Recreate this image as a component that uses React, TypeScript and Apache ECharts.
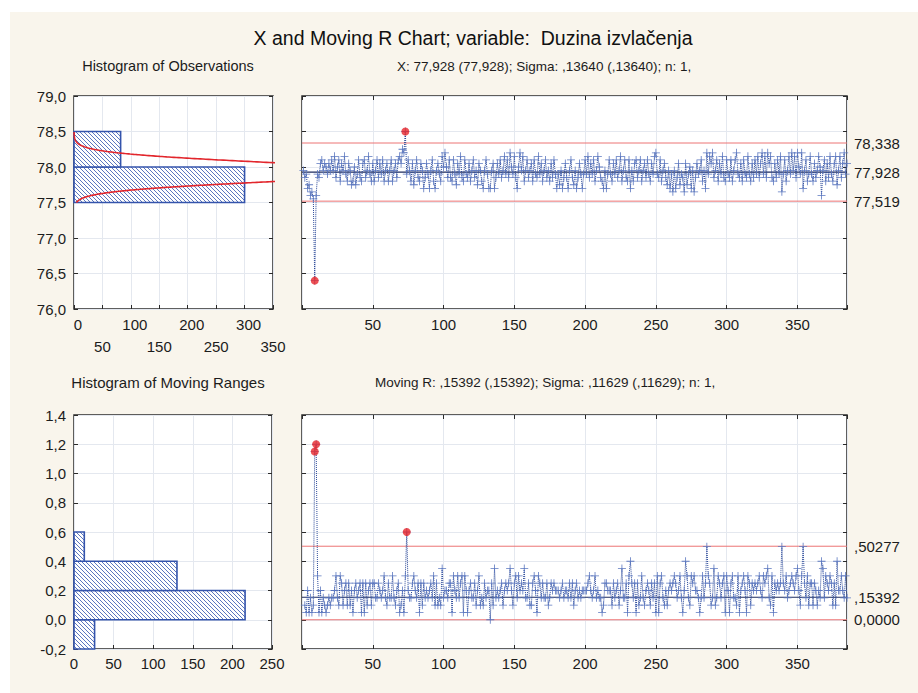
import React, { useEffect, useRef } from 'react';
import * as echarts from 'echarts';

// ---------- texts ----------
const TITLE = 'X and Moving R Chart; variable:  Duzina izvlačenja';
const HIST_X_TITLE = 'Histogram of Observations';
const X_STATS = 'X: 77,928 (77,928); Sigma: ,13640 (,13640); n: 1,';
const HIST_R_TITLE = 'Histogram of Moving Ranges';
const R_STATS = 'Moving R: ,15392 (,15392); Sigma: ,11629 (,11629); n: 1,';

// ---------- control limits ----------
const X_CENTER = 77.928;
const X_UCL = 78.338;
const X_LCL = 77.519;
const X_SIGMA = 0.1364;
const R_CENTER = 0.15392;
const R_UCL = 0.50277;
const R_LCL = 0;

// ---------- histograms (lower bin edges + counts) ----------
const X_HIST_BINS = [77.5, 78.0];
const X_HIST_COUNTS = [300, 82];
const X_BIN_WIDTH = 0.5;
const X_CURVE_RANGE = [77.5, 78.5];
const R_HIST_BINS = [-0.2, 0.0, 0.2, 0.4];
const R_HIST_COUNTS = [26, 216, 130, 13];
const R_BIN_WIDTH = 0.2;

// ---------- individual observations ----------
const X_VALUES = [
  77.95, 77.85, 77.9, 77.7, 77.75, 77.6, 77.65, 77.55, 76.4, 77.6, 77.9, 77.85, 78.05, 78.1, 77.95, 78.05, 78.0, 77.9, 78.05, 77.95,
  78.1, 77.95, 78.15, 77.85, 78.0, 78.1, 77.8, 78.05, 77.95, 78.15, 77.9, 77.8, 78.05, 77.95, 77.75, 77.8, 78.0, 77.75, 77.9, 78.1,
  77.85, 77.8, 78.05, 78.1, 77.85, 77.95, 78.15, 77.9, 77.8, 78.05, 77.8, 77.95, 78.1, 77.85, 78.05, 77.9, 78.1, 77.8, 77.95, 78.05,
  77.8, 77.95, 78.1, 77.8, 77.95, 78.05, 77.85, 78.1, 78.15, 78.05, 78.25, 78.2, 78.5, 77.9, 78.1, 77.95, 77.8, 78.05, 77.75, 77.95,
  78.1, 77.85, 77.8, 78.05, 77.95, 77.7, 77.85, 78.05, 77.9, 77.7, 77.95, 78.1, 77.8, 77.7, 77.95, 78.05, 77.9, 77.8, 78.15, 78.0,
  78.2, 78.0, 77.85, 78.1, 77.85, 77.8, 78.1, 77.9, 77.75, 78.05, 77.9, 78.15, 77.85, 77.8, 78.1, 77.9, 77.85, 78.05, 77.8, 77.95,
  78.1, 77.85, 77.95, 77.75, 78.05, 77.95, 77.8, 77.7, 77.95, 78.1, 77.9, 77.7, 77.7, 77.95, 78.05, 77.7, 77.85, 78.05, 77.9, 78.1,
  77.85, 77.95, 78.15, 77.9, 78.1, 77.85, 78.2, 78.0, 77.9, 78.15, 77.85, 77.7, 78.0, 78.2, 77.95, 78.15, 77.8, 77.95, 78.1, 77.85,
  77.95, 78.05, 77.8, 78.1, 77.9, 77.85, 78.15, 77.9, 78.05, 77.8, 77.95, 78.1, 77.85, 77.95, 77.8, 78.05, 77.85, 78.1, 77.9, 77.7,
  77.9, 77.75, 77.95, 77.7, 77.85, 78.05, 77.85, 77.7, 77.95, 78.1, 77.85, 77.75, 77.95, 77.7, 77.85, 78.05, 77.9, 77.7, 77.9, 78.1,
  77.9, 78.15, 77.85, 78.05, 77.9, 78.1, 77.8, 77.95, 78.15, 78.0, 77.85, 77.8, 77.7, 77.95, 77.7, 77.9, 78.1, 77.9, 77.8, 78.05,
  77.9, 78.1, 77.85, 77.95, 78.15, 77.8, 77.95, 78.1, 77.85, 77.8, 78.1, 77.7, 77.95, 77.8, 78.05, 78.1, 77.85, 77.95, 78.1, 77.8,
  77.95, 78.05, 77.85, 78.1, 77.9, 77.8, 78.05, 77.9, 78.15, 78.2, 77.9, 77.85, 78.1, 77.8, 77.95, 78.05, 77.85, 77.75, 77.95, 77.7,
  77.9, 77.65, 77.95, 77.7, 77.85, 78.05, 77.75, 77.9, 77.85, 77.65, 78.05, 77.75, 77.9, 78.0, 77.7, 77.95, 77.65, 77.85, 78.05, 77.9,
  77.95, 78.1, 77.8, 77.95, 77.7, 78.2, 77.9, 78.15, 78.05, 78.2, 77.85, 77.95, 78.1, 77.8, 78.05, 77.9, 78.15, 77.85, 77.8, 78.1,
  77.9, 77.85, 78.1, 77.8, 77.95, 78.1, 78.2, 77.9, 77.85, 78.05, 77.8, 78.1, 77.9, 77.85, 78.15, 77.9, 77.8, 78.05, 77.85, 78.1,
  77.9, 78.15, 77.85, 78.05, 78.2, 77.9, 78.15, 77.85, 78.2, 78.05, 78.15, 77.85, 77.8, 78.05, 77.85, 78.1, 77.9, 78.15, 77.65, 77.9,
  78.1, 77.8, 77.95, 78.15, 77.9, 78.2, 77.95, 78.15, 77.85, 78.2, 78.0, 77.9, 78.2, 77.7, 77.95, 78.1, 77.8, 77.9, 78.15, 77.9,
  77.8, 78.05, 77.85, 77.95, 78.15, 78.0, 77.6, 77.95, 78.1, 77.8, 78.05, 77.85, 78.15, 77.9, 77.8, 78.05, 78.15, 77.75, 77.95, 78.15,
  77.85, 78.05, 78.2, 77.9, 78.05,
];

// ---------- axes ----------
const X_HIST_MAX = 350;
const X_CURVE_MAX_COUNT = 355; // the fitted curve runs a little past the histogram frame
const R_HIST_MAX = 250;
const SAMPLE_MAX = 385;

const FONT = '"Liberation Sans", Arial, Helvetica, sans-serif';
const TXT = '#1c1c1c';
const BLUE = '#3454ac';
const LIMIT_RED = '#ec7474';
const CENTER_NAVY = '#1d2b5e';
const CROSS = 'path://M0,4.5L10,4.5L10,5.5L0,5.5Z M4.5,0L5.5,0L5.5,10L4.5,10Z';

const comma = (d: number) => (v: number) => v.toFixed(d).replace('.', ',');
const statFmt = (v: number) =>
  v === 0 ? '0,0000' : v.toFixed(5).replace(/^0/, '').replace('.', ',');

function hatchBar(params: any, api: any) {
  const lo = api.value(0);
  const hi = api.value(1);
  const cnt = api.value(2);
  const a = api.coord([0, hi]);
  const b = api.coord([cnt, lo]);
  const x0 = a[0], y0 = a[1], x1 = b[0], y1 = b[1];
  const children: any[] = [
    { type: 'rect', shape: { x: x0, y: y0, width: x1 - x0, height: y1 - y0 }, style: { fill: '#ffffff' } },
  ];
  const s = 4;
  const start = Math.ceil((y0 - x1) / s) * s;
  for (let c = start; c <= y1 - x0; c += s) {
    const xa = Math.max(x0, y0 - c);
    const xb = Math.min(x1, y1 - c);
    if (xb > xa) {
      children.push({
        type: 'line',
        shape: { x1: xa, y1: xa + c, x2: xb, y2: xb + c },
        style: { stroke: '#4a68b8', lineWidth: 0.9 },
      });
    }
  }
  children.push({
    type: 'rect',
    shape: { x: x0, y: y0, width: x1 - x0, height: y1 - y0 },
    style: { fill: 'none', stroke: BLUE, lineWidth: 1.6 },
  });
  return { type: 'group', children };
}

// horizontal reference line drawn through the axes of one chart
function limitLine(name: string, xi: number, yi: number, value: number, color: string, width: number, label: string) {
  return {
    type: 'line', name, xAxisIndex: xi, yAxisIndex: yi, silent: true, showSymbol: false, symbol: 'none',
    data: [[0, value], [SAMPLE_MAX, value]],
    lineStyle: { color, width, type: 'solid' }, itemStyle: { color }, z: 1,
    emphasis: { disabled: true },
    endLabel: { show: true, formatter: label, distance: 7, color: TXT, fontFamily: FONT, fontSize: 15 },
  };
}

function buildOption() {
  const N = X_VALUES.length;
  const xData = X_VALUES.map((v, i) => [i + 1, v]);
  const rData: number[][] = [];
  for (let i = 1; i < N; i++) {
    rData.push([i + 1, Math.round(Math.abs(X_VALUES[i] - X_VALUES[i - 1]) * 1000) / 1000]);
  }
  const xOut = xData.filter((p) => p[1] > X_UCL || p[1] < X_LCL);
  const rOut = rData.filter((p) => p[1] > R_UCL);

  // fitted normal curve (mean / sigma from the chart header), scaled to counts per bin;
  // two branches, each stopping where it leaves the histogram frame
  const peak = (N * X_BIN_WIDTH) / (X_SIGMA * Math.sqrt(2 * Math.PI));
  const dCut = X_SIGMA * Math.sqrt(2 * Math.log(peak / X_CURVE_MAX_COUNT));
  const density = (y: number) => {
    const z = (y - X_CENTER) / X_SIGMA;
    return peak * Math.exp(-0.5 * z * z);
  };
  const curve: any[] = [];
  const steps = 200;
  const lowEnd = X_CENTER - dCut;
  for (let k = 0; k <= steps; k++) {
    const y = X_CURVE_RANGE[0] + ((lowEnd - X_CURVE_RANGE[0]) * k) / steps;
    curve.push([density(y), y]);
  }
  curve.push(['-', '-']);
  const highStart = X_CENTER + dCut;
  for (let k = 0; k <= steps; k++) {
    const y = highStart + ((X_CURVE_RANGE[1] - highStart) * k) / steps;
    curve.push([density(y), y]);
  }

  const tick = { show: true, inside: true, length: 4, lineStyle: { color: '#2a2a2a', width: 1 } };
  const split = { show: true, lineStyle: { color: '#e4e8ef', width: 1 } };
  const noLine = { show: false, onZero: false };
  const lab = (extra: any) => ({ color: TXT, fontFamily: FONT, fontSize: 15, ...extra });
  const grid = (left: number, top: number, width: number, height: number) => ({
    left, top, width, height, show: true, backgroundColor: '#ffffff', borderColor: '#2b2b2b', borderWidth: 1.5,
  });

  return {
    animation: false,
    backgroundColor: 'transparent',
    textStyle: { fontFamily: FONT },
    grid: [grid(74, 96, 199, 213), grid(302, 96, 545, 213), grid(74, 415, 198, 234), grid(302, 415, 545, 234)],
    xAxis: [
      {
        gridIndex: 0, type: 'value', position: 'bottom', min: 0, max: X_HIST_MAX, interval: 50,
        axisLine: noLine, axisTick: tick, splitLine: split,
        axisLabel: lab({ interval: 0, margin: 8, padding: [0, 0, 0, 8], formatter: (v: number) => (v % 100 === 0 ? String(v) : '') }),
      },
      {
        gridIndex: 0, type: 'value', position: 'bottom', min: 0, max: X_HIST_MAX, interval: 50,
        axisLine: noLine, axisTick: { show: false }, splitLine: { show: false },
        axisLabel: lab({ interval: 0, margin: 30, formatter: (v: number) => (v % 100 === 50 ? String(v) : '') }),
      },
      {
        gridIndex: 1, type: 'value', position: 'bottom', min: 0, max: SAMPLE_MAX, interval: 50,
        axisLine: noLine, axisTick: tick, splitLine: split,
        axisLabel: lab({ interval: 0, margin: 8, formatter: (v: number) => (v > 0 && v % 50 === 0 ? String(v) : '') }),
      },
      {
        gridIndex: 1, type: 'value', position: 'top', min: 0, max: SAMPLE_MAX, interval: 50,
        axisLine: noLine, axisTick: tick, splitLine: { show: false }, axisLabel: { show: false },
      },
      {
        gridIndex: 2, type: 'value', position: 'bottom', min: 0, max: R_HIST_MAX, interval: 50,
        axisLine: noLine, axisTick: tick, splitLine: split,
        axisLabel: lab({ interval: 0, margin: 7, formatter: (v: number) => String(v) }),
      },
      {
        gridIndex: 3, type: 'value', position: 'bottom', min: 0, max: SAMPLE_MAX, interval: 50,
        axisLine: noLine, axisTick: tick, splitLine: split,
        axisLabel: lab({ interval: 0, margin: 7, formatter: (v: number) => (v > 0 && v % 50 === 0 ? String(v) : '') }),
      },
      {
        gridIndex: 3, type: 'value', position: 'top', min: 0, max: SAMPLE_MAX, interval: 50,
        axisLine: noLine, axisTick: tick, splitLine: { show: false }, axisLabel: { show: false },
      },
    ],
    yAxis: [
      {
        gridIndex: 0, type: 'value', position: 'left', min: 76, max: 79, interval: 0.5,
        axisLine: noLine, axisTick: tick, splitLine: split, axisLabel: lab({ margin: 8, formatter: comma(1) }),
      },
      {
        gridIndex: 0, type: 'value', position: 'right', min: 76, max: 79, interval: 0.5,
        axisLine: noLine, axisTick: tick, splitLine: { show: false }, axisLabel: { show: false },
      },
      {
        gridIndex: 1, type: 'value', position: 'left', min: 76, max: 79, interval: 0.5,
        axisLine: noLine, axisTick: tick, splitLine: split, axisLabel: { show: false },
      },
      {
        gridIndex: 1, type: 'value', position: 'right', min: 76, max: 79, interval: 0.5,
        axisLine: noLine, axisTick: tick, splitLine: { show: false }, axisLabel: { show: false },
      },
      {
        gridIndex: 2, type: 'value', position: 'left', min: -0.2, max: 1.4, interval: 0.2,
        axisLine: noLine, axisTick: tick, splitLine: split, axisLabel: lab({ margin: 8, formatter: comma(1) }),
      },
      {
        gridIndex: 2, type: 'value', position: 'right', min: -0.2, max: 1.4, interval: 0.2,
        axisLine: noLine, axisTick: tick, splitLine: { show: false }, axisLabel: { show: false },
      },
      {
        gridIndex: 3, type: 'value', position: 'left', min: -0.2, max: 1.4, interval: 0.2,
        axisLine: noLine, axisTick: tick, splitLine: split, axisLabel: { show: false },
      },
      {
        gridIndex: 3, type: 'value', position: 'right', min: -0.2, max: 1.4, interval: 0.2,
        axisLine: noLine, axisTick: tick, splitLine: { show: false }, axisLabel: { show: false },
      },
    ],
    series: [
      {
        type: 'custom', name: 'histX', xAxisIndex: 0, yAxisIndex: 0, silent: true,
        renderItem: hatchBar, encode: { x: 2, y: [0, 1] },
        data: X_HIST_BINS.map((lo, i) => [lo, lo + X_BIN_WIDTH, X_HIST_COUNTS[i]]),
      },
      {
        type: 'line', name: 'normal', xAxisIndex: 0, yAxisIndex: 0, silent: true, showSymbol: false, symbol: 'none',
        data: curve, connectNulls: false, lineStyle: { color: '#e2262c', width: 1.6 }, clip: false, z: 5,
        emphasis: { disabled: true },
      },
      limitLine('X UCL', 2, 2, X_UCL, LIMIT_RED, 1, comma(3)(X_UCL)),
      limitLine('X CL', 2, 2, X_CENTER, CENTER_NAVY, 1.2, comma(3)(X_CENTER)),
      limitLine('X LCL', 2, 2, X_LCL, LIMIT_RED, 1, comma(3)(X_LCL)),
      {
        type: 'line', name: 'X', xAxisIndex: 2, yAxisIndex: 2, silent: true,
        data: xData, symbol: CROSS, symbolSize: [8, 8], showSymbol: true,
        itemStyle: { color: '#5c78c0' }, lineStyle: { color: '#2a4898', width: 1, type: 'dotted' },
        emphasis: { disabled: true }, z: 3,
      },
      {
        type: 'scatter', name: 'Xout', xAxisIndex: 2, yAxisIndex: 2, silent: true,
        data: xOut, symbol: 'circle', symbolSize: 8, itemStyle: { color: '#e8262a' }, z: 6,
      },
      {
        type: 'custom', name: 'histR', xAxisIndex: 4, yAxisIndex: 4, silent: true,
        renderItem: hatchBar, encode: { x: 2, y: [0, 1] },
        data: R_HIST_BINS.map((lo, i) => [lo, lo + R_BIN_WIDTH, R_HIST_COUNTS[i]]),
      },
      limitLine('R UCL', 5, 6, R_UCL, LIMIT_RED, 1, statFmt(R_UCL)),
      limitLine('R CL', 5, 6, R_CENTER, CENTER_NAVY, 1.2, statFmt(R_CENTER)),
      limitLine('R LCL', 5, 6, R_LCL, LIMIT_RED, 1, statFmt(R_LCL)),
      {
        type: 'line', name: 'MR', xAxisIndex: 5, yAxisIndex: 6, silent: true,
        data: rData, symbol: CROSS, symbolSize: [8, 8], showSymbol: true,
        itemStyle: { color: '#5c78c0' }, lineStyle: { color: '#2a4898', width: 1, type: 'dotted' },
        emphasis: { disabled: true }, z: 3,
      },
      {
        type: 'scatter', name: 'Rout', xAxisIndex: 5, yAxisIndex: 6, silent: true,
        data: rOut, symbol: 'circle', symbolSize: 8, itemStyle: { color: '#e8262a' }, z: 6,
      },
    ],
    graphic: [
      { type: 'text', x: 473, y: 38, silent: true, style: { text: TITLE, fill: '#111', font: `19.5px ${FONT}`, textAlign: 'center', textVerticalAlign: 'middle' } },
      { type: 'text', x: 168, y: 66, silent: true, style: { text: HIST_X_TITLE, fill: TXT, font: `14.5px ${FONT}`, textAlign: 'center', textVerticalAlign: 'middle' } },
      { type: 'text', x: 397, y: 66, silent: true, style: { text: X_STATS, fill: TXT, font: `13.5px ${FONT}`, textAlign: 'left', textVerticalAlign: 'middle' } },
      { type: 'text', x: 168, y: 382, silent: true, style: { text: HIST_R_TITLE, fill: TXT, font: `15px ${FONT}`, textAlign: 'center', textVerticalAlign: 'middle' } },
      { type: 'text', x: 375, y: 382, silent: true, style: { text: R_STATS, fill: TXT, font: `13.5px ${FONT}`, textAlign: 'left', textVerticalAlign: 'middle' } },
    ],
  };
}

export default function App() {
  const ref = useRef<HTMLDivElement>(null);
  useEffect(() => {
    if (!ref.current) return;
    const chart = echarts.init(ref.current, null, { renderer: 'svg' });
    chart.setOption(buildOption() as any);
    return () => chart.dispose();
  }, []);
  return (
    <div style={{ position: 'absolute', left: 0, top: 0, width: 918, height: 693, background: '#ffffff' }}>
      <div style={{ position: 'absolute', left: 10, top: 12, right: 0, bottom: 0, background: '#f9f5ec' }} />
      <div ref={ref} style={{ position: 'absolute', left: 0, top: 0, width: 918, height: 693 }} />
    </div>
  );
}
